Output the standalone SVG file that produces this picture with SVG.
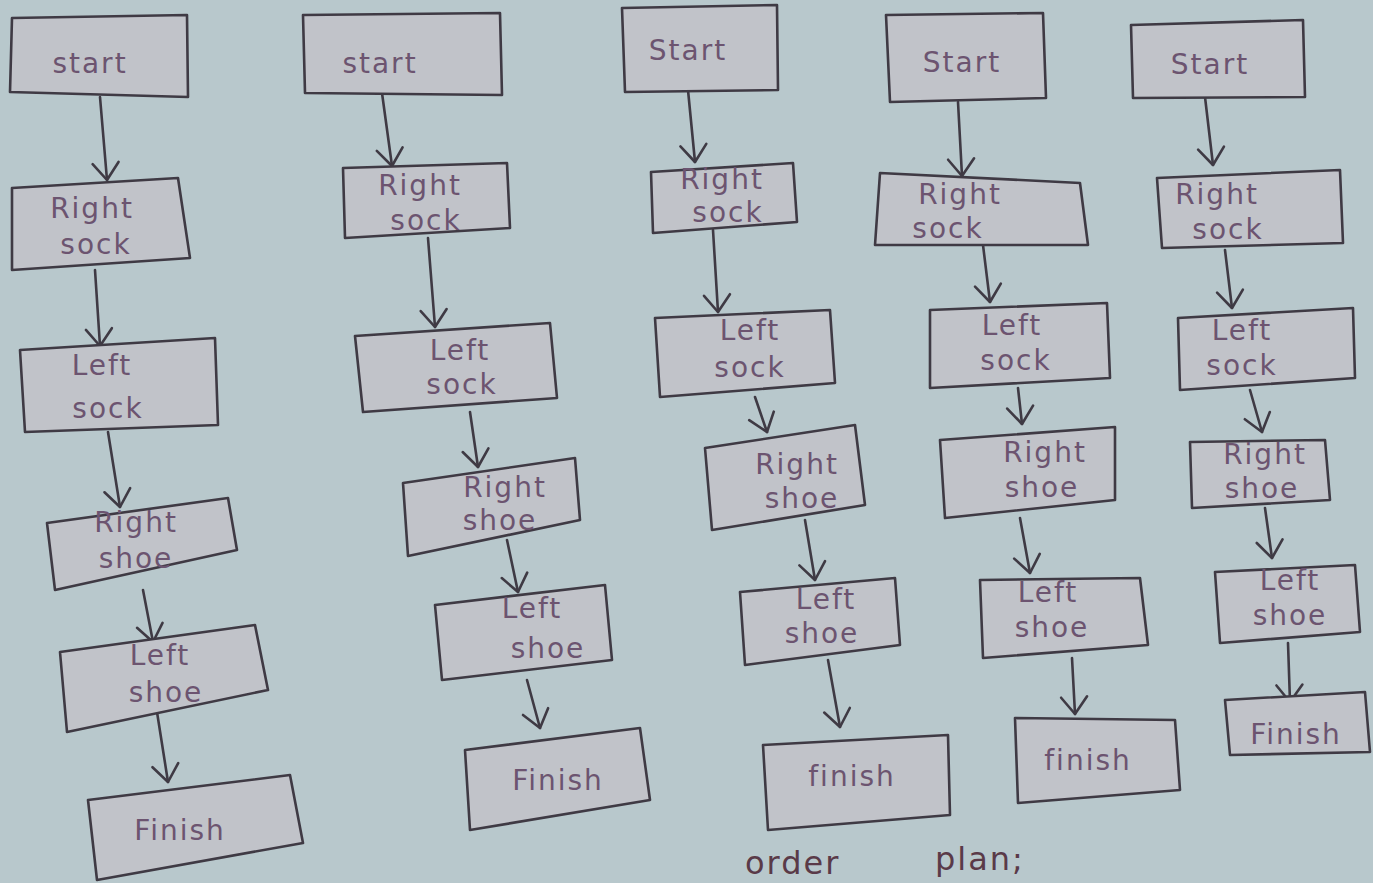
<svg xmlns="http://www.w3.org/2000/svg" width="1373" height="883" viewBox="0 0 1373 883">
<defs>
<marker id="v" markerUnits="userSpaceOnUse" markerWidth="40" markerHeight="40" viewBox="-20 -20 40 40" refX="0" refY="0" orient="auto">
<path d="M-17,-13 L0,0 L-17,13" fill="none" stroke="#3f3a44" stroke-width="2.6" stroke-linecap="round" stroke-linejoin="round"/>
</marker>
</defs>
<style>
.bg{fill:#b8c8cc}
.box{fill:#c1c3c9;stroke:#3f3a44;stroke-width:2.6;stroke-linejoin:round}
.t{font-family:"DejaVu Sans","Liberation Sans",sans-serif;font-size:28px;fill:#6c5470;text-anchor:middle;letter-spacing:2px}
.e{stroke:#3f3a44;stroke-width:2.6;fill:none;stroke-linecap:round;marker-end:url(#v)}
.cap{font-family:"DejaVu Sans","Liberation Sans",sans-serif;font-size:32px;fill:#5a3a48;letter-spacing:2px}
</style>
<rect class="bg" width="1373" height="883"/>
<g id="connectors">
<line class="e" x1="100" y1="97" x2="107" y2="180"/>
<line class="e" x1="95" y1="270" x2="100" y2="346"/>
<line class="e" x1="108" y1="432" x2="120" y2="507"/>
<line class="e" x1="143" y1="590" x2="153" y2="642"/>
<line class="e" x1="157" y1="712" x2="168" y2="782"/>
<line class="e" x1="382" y1="93" x2="392" y2="166"/>
<line class="e" x1="428" y1="238" x2="435" y2="327"/>
<line class="e" x1="470" y1="412" x2="478" y2="467"/>
<line class="e" x1="507" y1="540" x2="518" y2="592"/>
<line class="e" x1="527" y1="680" x2="540" y2="728"/>
<line class="e" x1="688" y1="90" x2="695" y2="162"/>
<line class="e" x1="713" y1="230" x2="718" y2="312"/>
<line class="e" x1="755" y1="397" x2="767" y2="432"/>
<line class="e" x1="805" y1="520" x2="815" y2="580"/>
<line class="e" x1="828" y1="660" x2="840" y2="727"/>
<line class="e" x1="958" y1="102" x2="962" y2="176"/>
<line class="e" x1="983" y1="245" x2="990" y2="302"/>
<line class="e" x1="1018" y1="388" x2="1022" y2="424"/>
<line class="e" x1="1020" y1="518" x2="1030" y2="573"/>
<line class="e" x1="1072" y1="658" x2="1075" y2="714"/>
<line class="e" x1="1205" y1="97" x2="1213" y2="165"/>
<line class="e" x1="1225" y1="250" x2="1232" y2="308"/>
<line class="e" x1="1250" y1="390" x2="1262" y2="432"/>
<line class="e" x1="1265" y1="508" x2="1272" y2="558"/>
<line class="e" x1="1288" y1="643" x2="1290" y2="702"/>
</g>
<g id="c1-start"><polygon class="box" points="12,18 187,15 188,97 10,92"/><text class="t" x="90" y="73">start</text></g>
<g id="c1-rsock"><polygon class="box" points="12,188 178,178 190,258 12,270"/><text class="t" x="92" y="218">Right</text><text class="t" x="96" y="254">sock</text></g>
<g id="c1-lsock"><polygon class="box" points="20,350 215,338 218,425 25,432"/><text class="t" x="102" y="375">Left</text><text class="t" x="108" y="418">sock</text></g>
<g id="c1-rshoe"><polygon class="box" points="47,523 228,498 237,550 55,590"/><text class="t" x="136" y="532">Right</text><text class="t" x="136" y="568">shoe</text></g>
<g id="c1-lshoe"><polygon class="box" points="60,652 255,625 268,690 67,732"/><text class="t" x="160" y="665">Left</text><text class="t" x="166" y="702">shoe</text></g>
<g id="c1-finish"><polygon class="box" points="88,800 290,775 303,843 97,880"/><text class="t" x="180" y="840">Finish</text></g>
<g id="c2-start"><polygon class="box" points="303,15 500,13 502,95 305,93"/><text class="t" x="380" y="73">start</text></g>
<g id="c2-rsock"><polygon class="box" points="343,168 507,163 510,228 345,238"/><text class="t" x="420" y="195">Right</text><text class="t" x="426" y="230">sock</text></g>
<g id="c2-lsock"><polygon class="box" points="355,336 550,323 557,398 363,412"/><text class="t" x="460" y="360">Left</text><text class="t" x="462" y="394">sock</text></g>
<g id="c2-rshoe"><polygon class="box" points="403,483 575,458 580,520 408,556"/><text class="t" x="505" y="497">Right</text><text class="t" x="500" y="530">shoe</text></g>
<g id="c2-lshoe"><polygon class="box" points="435,605 605,585 612,660 442,680"/><text class="t" x="532" y="618">Left</text><text class="t" x="548" y="658">shoe</text></g>
<g id="c2-finish"><polygon class="box" points="465,750 640,728 650,800 470,830"/><text class="t" x="558" y="790">Finish</text></g>
<g id="c3-start"><polygon class="box" points="622,8 777,5 778,90 625,92"/><text class="t" x="688" y="60">Start</text></g>
<g id="c3-rsock"><polygon class="box" points="651,172 793,163 797,222 653,233"/><text class="t" x="722" y="189">Right</text><text class="t" x="728" y="222">sock</text></g>
<g id="c3-lsock"><polygon class="box" points="655,318 830,310 835,383 660,397"/><text class="t" x="750" y="340">Left</text><text class="t" x="750" y="377">sock</text></g>
<g id="c3-rshoe"><polygon class="box" points="705,448 855,425 865,505 712,530"/><text class="t" x="797" y="474">Right</text><text class="t" x="802" y="508">shoe</text></g>
<g id="c3-lshoe"><polygon class="box" points="740,592 895,578 900,645 745,665"/><text class="t" x="826" y="609">Left</text><text class="t" x="822" y="643">shoe</text></g>
<g id="c3-finish"><polygon class="box" points="763,745 948,735 950,815 768,830"/><text class="t" x="852" y="786">finish</text></g>
<g id="c4-start"><polygon class="box" points="886,15 1043,13 1046,98 890,102"/><text class="t" x="962" y="72">Start</text></g>
<g id="c4-rsock"><polygon class="box" points="880,173 1080,183 1088,245 875,245"/><text class="t" x="960" y="204">Right</text><text class="t" x="948" y="238">sock</text></g>
<g id="c4-lsock"><polygon class="box" points="930,310 1107,303 1110,378 930,388"/><text class="t" x="1012" y="335">Left</text><text class="t" x="1016" y="370">sock</text></g>
<g id="c4-rshoe"><polygon class="box" points="940,440 1115,427 1115,500 945,518"/><text class="t" x="1045" y="462">Right</text><text class="t" x="1042" y="497">shoe</text></g>
<g id="c4-lshoe"><polygon class="box" points="980,580 1140,578 1148,645 983,658"/><text class="t" x="1048" y="602">Left</text><text class="t" x="1052" y="637">shoe</text></g>
<g id="c4-finish"><polygon class="box" points="1015,718 1175,720 1180,790 1018,803"/><text class="t" x="1088" y="770">finish</text></g>
<g id="c5-start"><polygon class="box" points="1131,25 1303,20 1305,97 1133,98"/><text class="t" x="1210" y="74">Start</text></g>
<g id="c5-rsock"><polygon class="box" points="1157,178 1340,170 1343,243 1162,248"/><text class="t" x="1217" y="204">Right</text><text class="t" x="1228" y="239">sock</text></g>
<g id="c5-lsock"><polygon class="box" points="1178,318 1353,308 1355,378 1180,390"/><text class="t" x="1242" y="340">Left</text><text class="t" x="1242" y="375">sock</text></g>
<g id="c5-rshoe"><polygon class="box" points="1190,442 1325,440 1330,500 1192,508"/><text class="t" x="1265" y="464">Right</text><text class="t" x="1262" y="498">shoe</text></g>
<g id="c5-lshoe"><polygon class="box" points="1215,572 1355,565 1360,632 1220,643"/><text class="t" x="1290" y="590">Left</text><text class="t" x="1290" y="625">shoe</text></g>
<g id="c5-finish"><polygon class="box" points="1225,700 1365,692 1370,752 1230,755"/><text class="t" x="1296" y="744">Finish</text></g>
<text class="cap" x="745" y="874">order</text>
<text class="cap" x="935" y="870">plan;</text>
</svg>
